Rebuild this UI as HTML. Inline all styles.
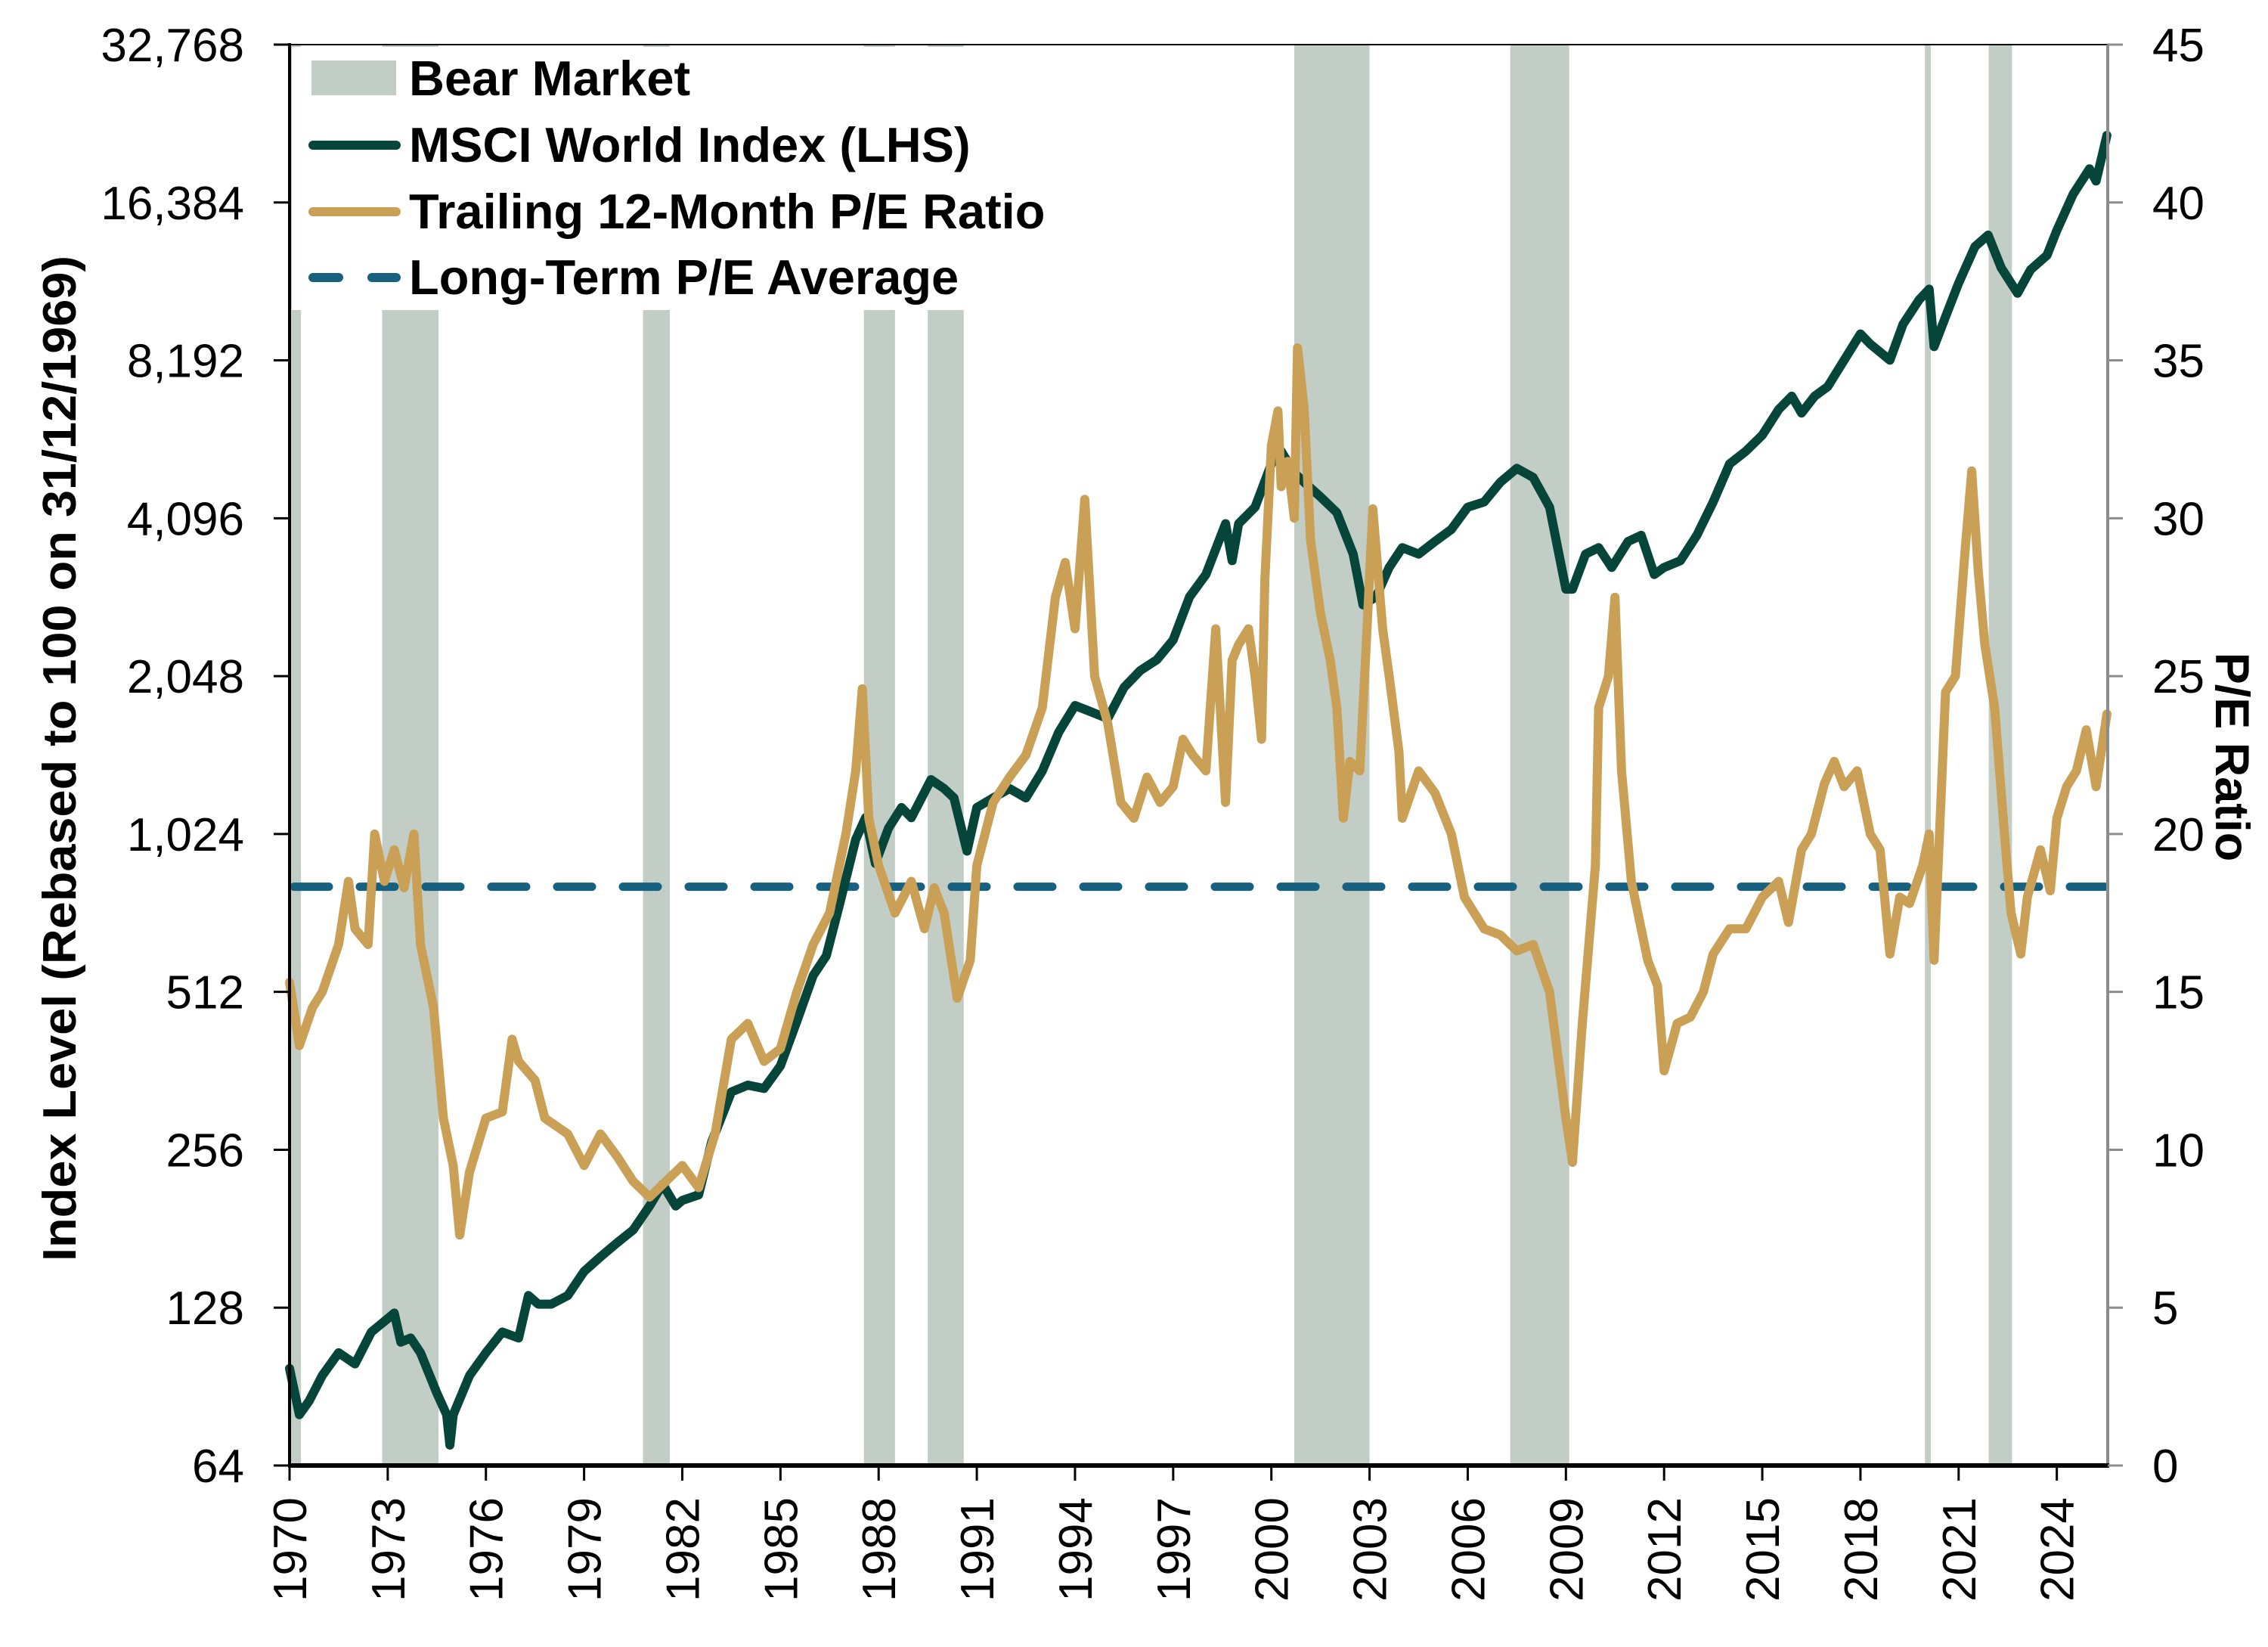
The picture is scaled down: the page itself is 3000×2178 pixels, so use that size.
<!DOCTYPE html>
<html><head><meta charset="utf-8"><style>
html,body{margin:0;padding:0;background:#fff;}
svg{display:block;font-family:"Liberation Sans",Arial,sans-serif;}
</style></head><body>
<svg id="chart" width="3000" height="2178" viewBox="0 0 3000 2178" xmlns="http://www.w3.org/2000/svg">
<g id="shade"></g>
<rect x="386" y="62" width="1010" height="348" fill="#fff"/>
<g id="avg"></g>
<g id="series"></g>
<g id="axes"></g>
<g font-weight="bold" font-size="65">
  <rect x="412" y="80" width="112" height="46" fill="#C2CDC5"/>
  <text x="541" y="126">Bear Market</text>
  <line x1="414" y1="192" x2="524" y2="192" stroke="#06463A" stroke-width="12" stroke-linecap="round"/>
  <text x="541" y="214">MSCI World Index (LHS)</text>
  <line x1="414" y1="280" x2="524" y2="280" stroke="#C9A055" stroke-width="12" stroke-linecap="round"/>
  <text x="541" y="302">Trailing 12-Month P/E Ratio</text>
  <line x1="414" y1="367" x2="524" y2="367" stroke="#17607F" stroke-width="12" stroke-linecap="round" stroke-dasharray="34 44"/>
  <text x="541" y="389">Long-Term P/E Average</text>
</g>
<text transform="translate(100,1003) rotate(-90)" text-anchor="middle" font-weight="bold" font-size="62" textLength="1330" lengthAdjust="spacingAndGlyphs">Index Level (Rebased to 100 on 31/12/1969)</text>
<text transform="translate(2931,1001) rotate(90)" text-anchor="middle" font-weight="bold" font-size="63">P/E Ratio</text>
</svg>
<script>
const bearStarts=[1970.0,1972.83,1980.8,1987.55,1989.5,2000.7,2007.3,2019.97,2021.92];
const bearEnds=[1970.35,1974.55,1981.62,1988.5,1990.6,2003.0,2009.1,2020.15,2022.63];
const leftTicks=[64,128,256,512,1024,2048,4096,8192,16384,32768];
const leftTickLabels=["64","128","256","512","1,024","2,048","4,096","8,192","16,384","32,768"];
const rightTicks=[0,5,10,15,20,25,30,35,40,45];
const xTicks=[1970,1973,1976,1979,1982,1985,1988,1991,1994,1997,2000,2003,2006,2009,2012,2015,2018,2021,2024];
const peAverage=18.33;
const msciYears=[1970.0,1970.3,1970.6,1971.0,1971.5,1972.0,1972.5,1973.0,1973.2,1973.4,1973.7,1974.0,1974.5,1974.8,1974.9,1975.0,1975.5,1976.0,1976.5,1977.0,1977.3,1977.6,1978.0,1978.5,1979.0,1979.5,1980.0,1980.5,1981.0,1981.4,1981.8,1982.0,1982.5,1982.9,1983.5,1984.0,1984.5,1985.0,1985.5,1986.0,1986.4,1986.8,1987.3,1987.6,1987.9,1988.3,1988.7,1989.0,1989.6,1990.0,1990.3,1990.7,1991.0,1991.5,1992.0,1992.5,1993.0,1993.5,1994.0,1994.5,1995.0,1995.5,1996.0,1996.5,1997.0,1997.5,1998.0,1998.6,1998.8,1999.0,1999.5,2000.0,2000.3,2000.7,2001.0,2001.5,2002.0,2002.5,2002.8,2003.2,2003.6,2004.0,2004.5,2005.0,2005.5,2006.0,2006.5,2007.0,2007.5,2008.0,2008.5,2009.0,2009.2,2009.6,2010.0,2010.4,2010.9,2011.3,2011.7,2012.0,2012.5,2013.0,2013.5,2014.0,2014.5,2015.0,2015.5,2015.9,2016.2,2016.6,2017.0,2017.5,2018.0,2018.3,2018.9,2019.3,2019.8,2020.1,2020.25,2020.7,2021.0,2021.5,2021.9,2022.3,2022.8,2023.2,2023.7,2024.0,2024.5,2025.0,2025.2,2025.53];
const msciValues=[98,80,85,95,105,100,115,122,125,110,112,105,88,80,70,80,95,105,115,112,135,130,130,135,150,160,170,180,200,220,200,205,210,265,330,340,335,370,450,550,600,750,1000,1100,900,1050,1150,1100,1300,1250,1200,950,1150,1200,1250,1200,1350,1600,1800,1750,1700,1950,2100,2200,2400,2900,3200,4000,3400,4000,4300,5200,5500,5000,4800,4500,4200,3500,2800,2900,3300,3600,3500,3700,3900,4300,4400,4800,5100,4900,4300,3000,3000,3500,3600,3300,3700,3800,3200,3300,3400,3800,4400,5200,5500,5900,6600,7000,6500,7000,7300,8200,9200,8800,8200,9600,10700,11200,8700,10300,11500,13500,14200,12300,11000,12200,13000,14500,17000,19000,18000,22000];
const peYears=[1970.0,1970.3,1970.7,1971.0,1971.5,1971.8,1972.0,1972.4,1972.6,1972.9,1973.2,1973.5,1973.8,1974.0,1974.4,1974.7,1975.0,1975.2,1975.5,1976.0,1976.5,1976.8,1977.0,1977.5,1977.8,1978.5,1979.0,1979.5,1980.0,1980.5,1981.0,1981.5,1982.0,1982.5,1983.0,1983.5,1984.0,1984.5,1985.0,1985.5,1986.0,1986.5,1987.0,1987.3,1987.5,1987.7,1988.0,1988.5,1989.0,1989.4,1989.7,1990.0,1990.4,1990.8,1991.0,1991.5,1992.0,1992.5,1993.0,1993.4,1993.7,1994.0,1994.3,1994.6,1995.0,1995.4,1995.8,1996.2,1996.6,1997.0,1997.3,1997.6,1998.0,1998.3,1998.6,1998.8,1999.0,1999.3,1999.5,1999.7,1999.8,2000.0,2000.2,2000.3,2000.5,2000.7,2000.8,2001.0,2001.2,2001.5,2001.8,2002.0,2002.2,2002.4,2002.7,2002.9,2003.1,2003.4,2003.6,2003.9,2004.0,2004.5,2005.0,2005.5,2005.9,2006.5,2007.0,2007.5,2008.0,2008.5,2009.0,2009.2,2009.5,2009.9,2010.0,2010.3,2010.5,2010.7,2011.0,2011.5,2011.8,2012.0,2012.4,2012.8,2013.2,2013.5,2014.0,2014.5,2015.0,2015.5,2015.8,2016.2,2016.5,2016.9,2017.2,2017.5,2017.9,2018.3,2018.6,2018.9,2019.2,2019.5,2019.9,2020.1,2020.25,2020.6,2020.9,2021.2,2021.4,2021.6,2021.8,2022.1,2022.4,2022.6,2022.9,2023.1,2023.5,2023.8,2024.0,2024.3,2024.6,2024.9,2025.2,2025.53];
const peValues=[15.3,13.3,14.5,15.0,16.5,18.5,17,16.5,20.0,18.5,19.5,18.3,20.0,16.5,14.5,11.0,9.5,7.3,9.3,11.0,11.2,13.5,12.8,12.2,11.0,10.5,9.5,10.5,9.8,9.0,8.5,9.0,9.5,8.8,10.5,13.5,14.0,12.8,13.2,15.0,16.5,17.5,20.0,22.0,24.6,20.5,19.0,17.5,18.5,17.0,18.3,17.5,14.8,16.0,19.0,21.0,21.8,22.5,24.0,27.5,28.6,26.5,30.6,25.0,23.5,21.0,20.5,21.8,21.0,21.5,23.0,22.5,22.0,26.5,21.0,25.5,26.0,26.5,25.0,23.0,28.0,32.3,33.4,31.0,31.8,30.0,35.4,33.5,29.3,27.0,25.5,24.0,20.5,22.3,22.0,26.0,30.3,26.5,25.0,22.6,20.5,22.0,21.3,20.0,18.0,17.0,16.8,16.3,16.5,15.0,11.0,9.6,14.0,19.0,24.0,25.0,27.5,22.0,18.5,16.0,15.2,12.5,14.0,14.2,15.0,16.2,17.0,17.0,18.0,18.5,17.2,19.5,20.0,21.6,22.3,21.5,22.0,20.0,19.5,16.2,18.0,17.8,19.0,20.0,16.0,24.5,25.0,29.0,31.5,28.3,26.0,24.0,20.0,17.5,16.2,18.0,19.5,18.2,20.5,21.5,22.0,23.3,21.5,23.8];

const NS="http://www.w3.org/2000/svg";
const L=383,R=2788,T=59,B=1938,X0=1970,PER_YEAR=43.29;
function xs(y){return L+(y-X0)*PER_YEAR;}
function yl(v){return B-(Math.log2(v/64))*(B-T)/9;}
function yr(v){return B-v*(B-T)/45;}
function mk(tag,attrs,parent){const e=document.createElementNS(NS,tag);for(const k in attrs)e.setAttribute(k,attrs[k]);parent.appendChild(e);return e;}

const shade=document.getElementById('shade');
for(let i=0;i<bearStarts.length;i++){
  const r=mk('rect',{x:xs(bearStarts[i]),y:T,width:Math.max(4,xs(bearEnds[i])-xs(bearStarts[i])),height:B-T,fill:'#C2CDC5'},shade);
  
  
}
const avg=document.getElementById('avg');
const al=mk('line',{x1:L+6,x2:R,y1:yr(peAverage),y2:yr(peAverage),stroke:'#17607F','stroke-width':11,'stroke-linecap':'round','stroke-dasharray':'46 41'},avg);



const series=document.getElementById('series');
let d='';msciYears.forEach((yv,i)=>{d+=(i?'L':'M')+xs(yv).toFixed(1)+' '+yl(msciValues[i]).toFixed(1);});
const pm=mk('path',{d:d,fill:'none',stroke:'#06463A','stroke-width':12,'stroke-linejoin':'round','stroke-linecap':'round'},series);


d='';peYears.forEach((yv,i)=>{d+=(i?'L':'M')+xs(yv).toFixed(1)+' '+yr(peValues[i]).toFixed(1);});
const pp=mk('path',{d:d,fill:'none',stroke:'#C9A055','stroke-width':12,'stroke-linejoin':'round','stroke-linecap':'round'},series);



const axes=document.getElementById('axes');
const topBorder=mk('line',{x1:L,x2:R,y1:T,y2:T,stroke:'#000','stroke-width':2},axes);


const ra=mk('line',{x1:R,x2:R,y1:T,y2:B,stroke:'#8c8c8c','stroke-width':4},axes);


const la=mk('line',{x1:L,x2:L,y1:T-2,y2:B,stroke:'#000','stroke-width':4},axes);


const ba=mk('line',{x1:L-2,x2:R+2,y1:B,y2:B,stroke:'#000','stroke-width':6},axes);


leftTicks.forEach((v,i)=>{
  const y=yl(v);
  const t=mk('line',{x1:362,x2:L,y1:y,y2:y,stroke:'#000','stroke-width':3},axes);
  
  
  const tx=mk('text',{x:323,y:y+22,'text-anchor':'end','font-size':62},axes);
  tx.textContent=leftTickLabels[i];
  
  
});
rightTicks.forEach(v=>{
  const y=yr(v);
  const t=mk('line',{x1:R,x2:2808,y1:y,y2:y,stroke:'#8c8c8c','stroke-width':3},axes);
  
  
  const tx=mk('text',{x:2847,y:y+22,'font-size':62},axes);
  tx.textContent=String(v);
  
  
});
xTicks.forEach(v=>{
  const x=xs(v);
  const t=mk('line',{x1:x,x2:x,y1:B,y2:1958,stroke:'#000','stroke-width':3},axes);
  
  
  const tx=mk('text',{transform:'translate('+(x+22)+',1980) rotate(-90)','text-anchor':'end','font-size':62},axes);
  tx.textContent=String(v);
  
  
});
</script>
</body></html>
